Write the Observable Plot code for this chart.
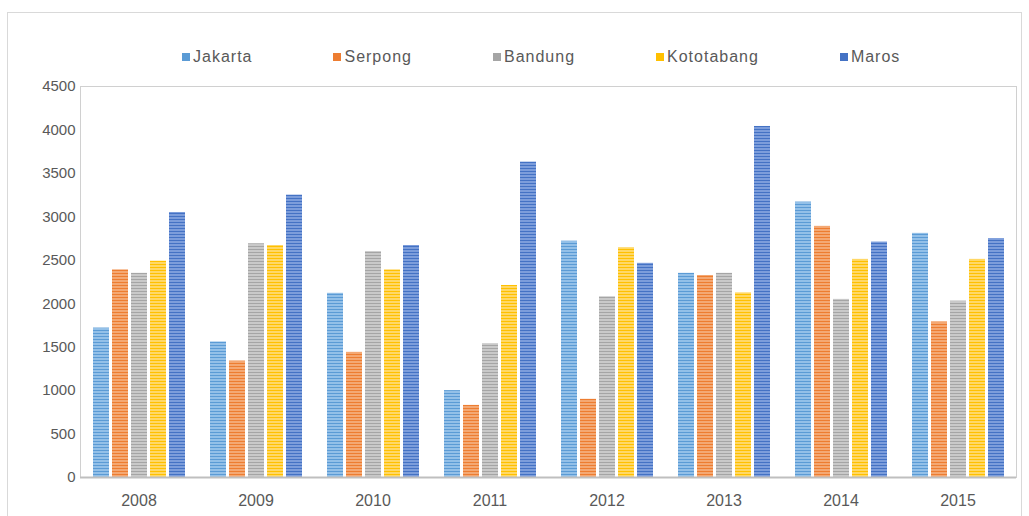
<!DOCTYPE html>
<html><head><meta charset="utf-8">
<script src="https://cdn.jsdelivr.net/npm/d3@7"></script>
<script src="https://cdn.jsdelivr.net/npm/@observablehq/plot@0.6"></script>
<style>
body{margin:0;background:#fff;font-family:"Liberation Sans",Arial,sans-serif;}
#wrap{position:relative;width:1029px;height:516px;overflow:hidden;}
#border{position:absolute;left:7px;top:12px;width:1015px;height:520px;border:1px solid #d9d9d9;box-sizing:border-box;}
#legend{position:absolute;top:47px;left:182px;display:flex;gap:81px;font-size:16px;letter-spacing:1px;color:#595959;line-height:20px;}
#legend .it{display:flex;align-items:center;}
#legend .sw{width:8px;height:8px;margin-right:3px;}
#chart{position:absolute;left:0;top:70px;}
#defs{position:absolute;width:0;height:0;}
</style></head>
<body>
<div id="wrap">
<div id="border"></div>
<svg id="defs" width="0" height="0"><defs id="patdefs"></defs></svg>
<div id="legend"></div>
<div id="chart"></div>
</div>
<script>
const years = ["2008","2009","2010","2011","2012","2013","2014","2015"];
const series = ["Jakarta","Serpong","Bandung","Kototabang","Maros"];
const jakarta    = [1720,1560,2120,1000,2720,2350,3170,2810];
const serpong    = [2390,1340,1440, 830, 900,2325,2890,1790];
const bandung    = [2350,2690,2600,1540,2080,2350,2050,2030];
const kototabang = [2490,2670,2390,2210,2645,2125,2510,2510];
const maros      = [3050,3250,2670,3630,2465,4040,2710,2750];
const yTicks = [0,500,1000,1500,2000,2500,3000,3500,4000,4500];
const baseColors  = ["#5b9bd5","#ed7d31","#a5a5a5","#ffc000","#4472c4"];
const lightColors = ["#93c0e8","#f4a873","#c9c9c9","#ffd866","#7c9ddb"];

const values = [jakarta, serpong, bandung, kototabang, maros];

// stripe patterns
const defs = document.getElementById("patdefs");
const NS = "http://www.w3.org/2000/svg";
series.forEach((s,j)=>{
  const p = document.createElementNS(NS,"pattern");
  p.setAttribute("id","pat"+j);
  p.setAttribute("patternUnits","userSpaceOnUse");
  p.setAttribute("width","6"); p.setAttribute("height","3");
  const r1 = document.createElementNS(NS,"rect");
  r1.setAttribute("width","6"); r1.setAttribute("height","3"); r1.setAttribute("fill",lightColors[j]);
  const r2 = document.createElementNS(NS,"rect");
  r2.setAttribute("y","2"); r2.setAttribute("width","6"); r2.setAttribute("height","1"); r2.setAttribute("fill",baseColors[j]);
  p.appendChild(r1); p.appendChild(r2); defs.appendChild(p);
});

// legend
const leg = document.getElementById("legend");
series.forEach((s,j)=>{
  const it = document.createElement("div"); it.className="it";
  const sw = document.createElement("span"); sw.className="sw"; sw.style.background=baseColors[j];
  const tx = document.createElement("span"); tx.textContent = s;
  it.appendChild(sw); it.appendChild(tx); leg.appendChild(it);
});

const data = years.flatMap((yr,i)=>series.map((s,j)=>({year:yr, series:s, idx:j, value:values[j][i]})));

const plot = Plot.plot({
  width:1029, height:446,
  marginTop:16, marginBottom:39, marginLeft:79, marginRight:12,
  style:{fontFamily:"Liberation Sans, Arial, sans-serif", color:"#595959", background:"transparent"},
  fx:{domain:years, padding:0, label:null, axis:null},
  x:{domain:series, paddingInner:0.17, paddingOuter:0.62, axis:null},
  y:{domain:[0,4500], label:null, axis:null},
  color:{type:"identity"},
  marks:[
    Plot.frame({facet:"super", stroke:"#d0d0d0"}),
    Plot.barY(data,{fx:"year", x:"series", y:"value", fill:d=>"url(#pat"+d.idx+")"}),
    Plot.ruleY([0],{stroke:"#bfbfbf", strokeWidth:2}),
    Plot.axisY({ticks:yTicks, tickFormat:"d", tickSize:0, tickPadding:5, fontSize:15, label:null, fill:"#595959"}),
    Plot.axisFx({anchor:"bottom", tickSize:0, tickPadding:17, fontSize:16, label:null, fill:"#595959"})
  ]
});
document.getElementById("chart").appendChild(plot);
</script>
</body></html>
